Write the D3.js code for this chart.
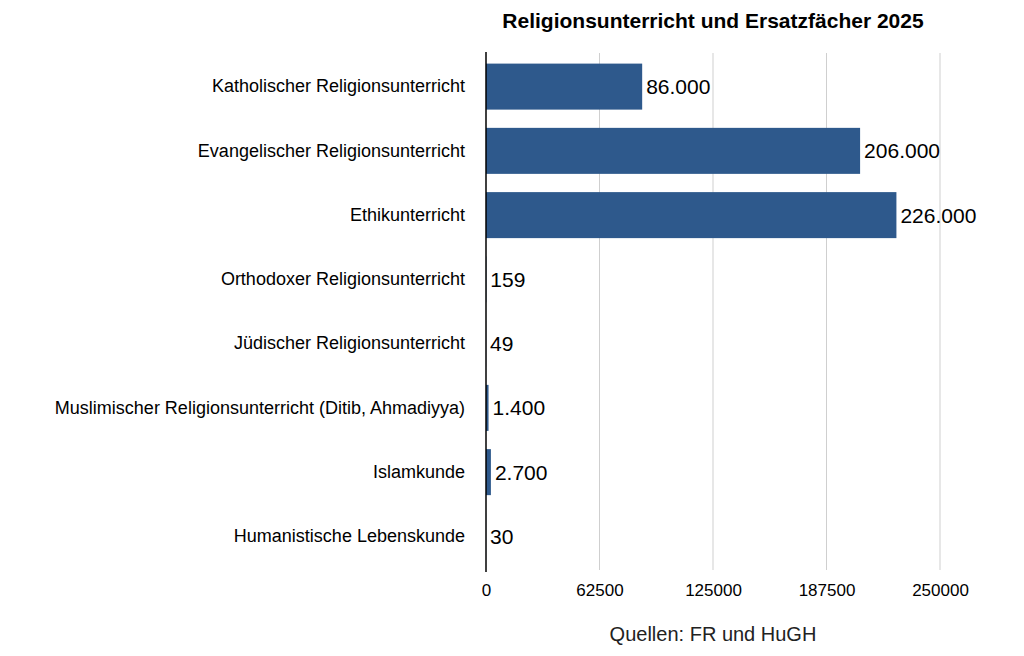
<!DOCTYPE html>
<html>
<head>
<meta charset="utf-8">
<script src="https://cdn.jsdelivr.net/npm/d3@7"></script>
<style>
  body { margin: 0; background: #fff; }
  text { font-family: "Liberation Sans", Arial, Helvetica, sans-serif; }
</style>
</head>
<body>
<div id="chart"></div>
<script>
// Data
const categories = [
  "Katholischer Religionsunterricht",
  "Evangelischer Religionsunterricht",
  "Ethikunterricht",
  "Orthodoxer Religionsunterricht",
  "Jüdischer Religionsunterricht",
  "Muslimischer Religionsunterricht (Ditib, Ahmadiyya)",
  "Islamkunde",
  "Humanistische Lebenskunde"
];
const students = [86000, 206000, 226000, 159, 49, 1400, 2700, 30];
const xTicks = [0, 62500, 125000, 187500, 250000];

const title = "Religionsunterricht und Ersatzfächer 2025";
const source = "Quellen: FR und HuGH";

// Dimensions
const width = 1024, height = 656;
const plot = { left: 486, right: 940, top: 53, bottom: 570 };

const svg = d3.select("#chart")
  .append("svg")
    .attr("width", width)
    .attr("height", height);

const de = d3.formatLocale({ decimal: ",", thousands: ".", grouping: [3], currency: ["", " €"] });
const fmt = de.format(",d");

// Scales
const x = d3.scaleLinear()
  .domain([0, 250000])
  .range([plot.left, plot.right]);

const y = d3.scaleBand()
  .domain(categories)
  .range([plot.top, plot.bottom])
  .paddingInner(0.284)
  .paddingOuter(0.165);

// Gridlines
svg.append("g")
  .selectAll("line")
  .data(xTicks.slice(1))
  .enter().append("line")
    .attr("x1", d => x(d))
    .attr("x2", d => x(d))
    .attr("y1", plot.top)
    .attr("y2", plot.bottom)
    .attr("stroke", "#cfcfcf")
    .attr("stroke-width", 1);

// X axis
const xAxis = svg.append("g")
  .attr("transform", `translate(0,${plot.bottom})`)
  .call(d3.axisBottom(x).tickValues(xTicks).tickFormat(d3.format("d")).tickSize(0).tickPadding(14));
xAxis.select(".domain").remove();
xAxis.selectAll("text")
  .style("font-size", "17px")
  .attr("fill", "#000");

// Bars
svg.selectAll(".bar")
  .data(students)
  .enter().append("rect")
    .attr("class", "bar")
    .attr("x", x(0))
    .attr("y", (d, i) => y(categories[i]))
    .attr("width", d => x(d) - x(0))
    .attr("height", y.bandwidth())
    .attr("fill", "#2e598c");

// Value labels
svg.selectAll(".value")
  .data(students)
  .enter().append("text")
    .attr("class", "value")
    .attr("x", d => x(d) + 4)
    .attr("y", (d, i) => y(categories[i]) + y.bandwidth() / 2)
    .attr("dy", "0.36em")
    .style("font-size", "21px")
    .attr("fill", "#000")
    .text(d => fmt(d));

// Y axis
const yAxis = svg.append("g")
  .attr("transform", `translate(${plot.left},0)`)
  .call(d3.axisLeft(y).tickSize(0).tickPadding(21));
yAxis.select(".domain")
  .attr("d", `M0,${plot.top - 1}V${plot.bottom + 2}`)
  .attr("stroke", "#000")
  .attr("stroke-width", 1.5);
yAxis.selectAll("text")
  .style("font-size", "18px")
  .attr("fill", "#000");

// Title
svg.append("text")
  .attr("x", (plot.left + plot.right) / 2)
  .attr("y", 28)
  .attr("text-anchor", "middle")
  .style("font-size", "21px")
  .style("font-weight", "bold")
  .text(title);

// Source
svg.append("text")
  .attr("x", (plot.left + plot.right) / 2)
  .attr("y", 641)
  .attr("text-anchor", "middle")
  .style("font-size", "20px")
  .attr("fill", "#222")
  .text(source);
</script>
</body>
</html>
